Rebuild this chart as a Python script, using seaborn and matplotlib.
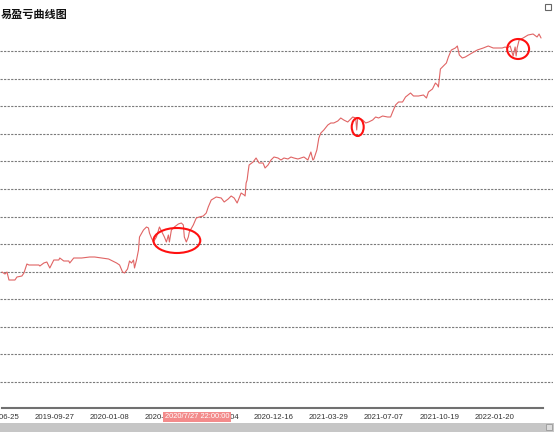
import pandas as pd
import matplotlib.pyplot as plt
import matplotlib.transforms as mtransforms
from matplotlib.patches import Ellipse, Rectangle
import seaborn as sns

bar = [0, 3, 5, 7, 10, 13, 15, 20, 22, 25, 27, 32, 37, 38, 42, 45, 48, 52, 57, 58,
       62, 67, 68, 72, 80, 88, 93, 100, 107, 115, 118, 121, 123, 126, 128, 130, 132, 133,
       135, 137, 138, 142, 145, 147, 148, 150, 152, 155, 158, 160, 163, 165, 167, 168,
       170, 173, 177, 180, 182, 183, 185, 187, 188, 192, 195, 198, 202, 205, 207, 210,
       215, 220, 223, 227, 230, 233, 236, 238, 240, 243, 244, 245, 246, 247, 248, 252,
       255, 258, 262, 264, 267, 270, 273, 277, 280, 283, 287, 290, 293, 297, 300, 303,
       307, 310, 312, 313, 316, 318, 320, 323, 327, 330, 333, 337, 340, 343, 347, 352,
       355, 356, 357, 362, 365, 368, 372, 375, 378, 382, 387, 390, 392, 395, 398, 402,
       405, 410, 413, 418, 423, 426, 428, 432, 435, 437, 438, 440, 443, 446, 448, 451,
       455, 457, 459, 462, 465, 470, 477, 483, 488, 493, 498, 502, 505, 507, 510, 513,
       515, 516, 517, 519, 523, 528, 533, 537, 539, 541]
equity = [11000, 10800, 11000, 10200, 10200, 10200, 10500, 10600, 10900, 11800, 11700,
          11700, 11700, 11600, 11900, 12000, 11400, 12200, 12200, 12400, 12100, 12100,
          11900, 12400, 12400, 12500, 12500, 12400, 12300, 11900, 11700, 11000, 10900,
          11300, 12100, 11900, 12200, 11400, 12200, 13200, 14500, 15200, 15500, 15400,
          14900, 14400, 14000, 14500, 15500, 15100, 14500, 14000, 14700, 14000, 15200,
          15500, 15800, 15900, 15700, 14500, 14000, 14500, 15000, 15700, 16400, 16500,
          16600, 16900, 17500, 18200, 18500, 18400, 18000, 18300, 18600, 18400, 17900,
          18400, 18900, 18700, 18600, 19900, 20200, 21000, 21700, 22000, 22400, 21900,
          21900, 21400, 21700, 22200, 22500, 22400, 22200, 22400, 22300, 22500, 22400,
          22300, 22400, 22500, 22200, 23000, 22200, 22300, 23200, 24400, 24900, 25200,
          25700, 25900, 25900, 26100, 26400, 26200, 26000, 26500, 26400, 25200, 26400,
          26200, 25900, 26000, 26200, 26500, 26400, 26600, 26500, 26500, 27000, 27700,
          28000, 28000, 28500, 28900, 28600, 28600, 28700, 28400, 29000, 29300, 29900,
          29700, 29500, 31300, 31600, 31900, 32500, 33200, 33400, 33600, 32700, 32400,
          32500, 32800, 33200, 33400, 33600, 33400, 33400, 33400, 33500, 33400, 33600,
          32600, 33500, 32600, 33400, 34200, 34400, 34700, 34800, 34500, 34800, 34400]

tick_bars = [-2, 53, 108, 163, 218, 273, 328, 383, 439, 494]
tick_dates = ['2019-06-25', '2019-09-27', '2020-01-08', '2020-05-12', '2020-09-04',
              '2020-12-16', '2021-03-29', '2021-07-07', '2021-10-19', '2022-01-20']

grid_step = 2758
grid_levels = [grid_step * k for k in range(13)]

# red circles marking drawdowns: (bar, equity, width in bars, height in yuan)
marks = [(175.5, 14150, 47, 2500), (357, 25500, 12, 1800), (518, 33300, 22, 2000)]

cursor_bar = 196
cursor_text = '2020/7/27 22:00:00'

sns.set_theme(style='white')
plt.rcParams['font.family'] = ['Liberation Sans', 'DejaVu Sans']

fig = plt.figure(figsize=(5.54, 4.32), dpi=100)
ax = fig.add_axes([0, 24 / 432, 553 / 554, 383 / 432])

df = pd.DataFrame({'bar': bar, 'equity': equity})
sns.lineplot(data=df, x='bar', y='equity', ax=ax, color='#e06464', linewidth=0.8)

for bx, ey, w, h in marks:
    ax.add_patch(Ellipse((bx, ey), w, h, fill=False, edgecolor='#ff1010', linewidth=1.5, zorder=4))

ax.set_xlim(0, 553)
ax.set_ylim(-2600, 35700)
ax.set_yticks(grid_levels)
ax.set_yticklabels([])
ax.tick_params(axis='y', length=0)
ax.grid(axis='y', color='#7a7a7a', linestyle=(0, (2, 1.2)), linewidth=0.8)
ax.grid(axis='x', visible=False)

ax.set_xticks(tick_bars)
ax.set_xticklabels(tick_dates, fontsize=5.6, color='#333333')
ax.set_xticks(tick_bars[2::2], minor=True)
ax.tick_params(axis='x', which='major', length=0, pad=4)
ax.tick_params(axis='x', which='minor', length=3, direction='in', color='#333333', width=0.8)
ax.set_xlabel('')
ax.set_ylabel('')

for side in ['top', 'left', 'right']:
    ax.spines[side].set_visible(False)
ax.spines['bottom'].set_color('#707070')
ax.spines['bottom'].set_linewidth(1.5)
ax.spines['bottom'].set_bounds(0, 543)

trans = mtransforms.blended_transform_factory(ax.transData, ax.transAxes)
ax.text(cursor_bar, -9 / 383, cursor_text, transform=trans, ha='center', va='center',
        fontsize=5.4, color='white', clip_on=False, zorder=6,
        bbox=dict(boxstyle='square,pad=0.25', fc='#f38b8b', ec='none'))

fig.text(1 / 554, 1 - 14 / 432, '易盈亏曲线图', fontsize=8, fontweight='bold',
         family=['Noto Sans CJK SC', 'DejaVu Sans'], va='center', ha='left', color='#111111')

# window chrome: corner box and bottom scroll bar
fig.patches.append(Rectangle((545 / 554, 1 - 10 / 432), 6 / 554, 6 / 432, transform=fig.transFigure,
                             fill=True, facecolor='white', edgecolor='#666666', linewidth=0.8))
fig.patches.append(Rectangle((0, 0), 1, 9 / 432, transform=fig.transFigure,
                             facecolor='#c6c6c6', edgecolor='none'))
fig.patches.append(Rectangle((546 / 554, 2 / 432), 6 / 554, 6 / 432, transform=fig.transFigure,
                             facecolor='#dcdcdc', edgecolor='#9a9a9a', linewidth=0.6))

fig.savefig('out.png', dpi=100)
